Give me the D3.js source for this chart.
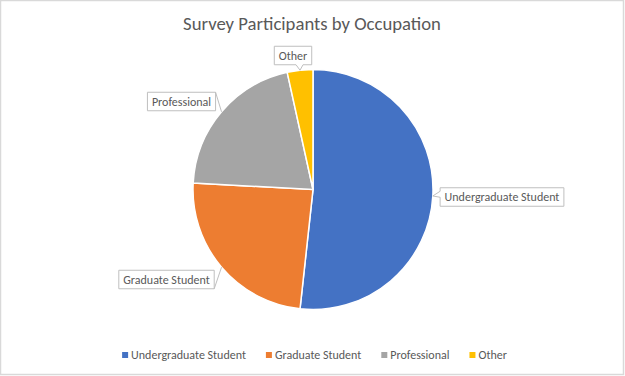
<!DOCTYPE html>
<html>
<head>
	<title>Survey Participants by Occupation</title>
	<style>
		body, html { margin: 0; padding: 0; background: #fff; }
		svg { display: block; }
	</style>
</head>
<body>
	<svg id="svg" width="625" height="376"></svg>

	<script src="https://cdn.jsdelivr.net/npm/d3@7/dist/d3.min.js"></script>
	<script>
		// Data
		const categories = ['Undergraduate Student', 'Graduate Student', 'Professional', 'Other']
		const counts = [150, 70, 60, 10]
		const colors = ['#4472C4', '#ED7D31', '#A5A5A5', '#FFC000']

		const font = 'Calibri, Carlito, Lato, sans-serif'
		const textColor = '#595959'

		const svg = d3.select('#svg')

		// chart border
		svg.append('rect')
			.attr('x', 0.5).attr('y', 0.5)
			.attr('width', 623).attr('height', 374)
			.attr('fill', '#fff')
			.attr('stroke', '#d9d9d9')
			.attr('stroke-width', 1.5)

		// title
		svg.append('text')
			.attr('x', 312).attr('y', 29.5)
			.attr('text-anchor', 'middle')
			.attr('font-family', font)
			.attr('font-size', 18.7)
			.attr('fill', textColor)
			.text('Survey Participants by Occupation')

		// Pie
		const cx = 313, cy = 189.5, r = 120
		const pie = d3.pie().sort(null).value(d => d)
		const arcs = pie(counts)
		const arc = d3.arc().innerRadius(0).outerRadius(r)

		const g = svg.append('g').attr('transform', `translate(${cx}, ${cy})`)
		g.selectAll('path')
			.data(arcs)
			.join('path')
			.attr('d', arc)
			.attr('fill', (d, i) => colors[i])
			.attr('stroke', '#fff')
			.attr('stroke-width', 1.5)

		// point on the rim at the middle of a slice
		function rimPoint(d) {
			const a = (d.startAngle + d.endAngle) / 2
			return [cx + r * Math.sin(a), cy - r * Math.cos(a)]
		}

		// where the data labels sit (box centre) and how they connect
		const labelPos = [
			{ x: 502, y: 197, kind: 'left' },
			{ x: 166.5, y: 279.5, kind: 'line' },
			{ x: 181.5, y: 101.5, kind: 'line' },
			{ x: 293, y: 55.5, kind: 'bottom' }
		]
		const boxH = 18.5

		arcs.forEach((d, i) => {
			const lp = labelPos[i]
			const tip = rimPoint(d)
			const t = svg.append('text')
				.attr('x', lp.x).attr('y', lp.y + 4)
				.attr('text-anchor', 'middle')
				.attr('font-family', font)
				.attr('font-size', 12)
				.attr('fill', textColor)
				.text(categories[i])
			const w = t.node().getComputedTextLength() + 9
			const x0 = lp.x - w / 2, y0 = lp.y - boxH / 2
			let path
			if (lp.kind === 'left') {
				path = `M${x0},${y0}H${x0 + w}V${y0 + boxH}H${x0}V${y0 + 9.5}L${tip[0]},${tip[1]}L${x0},${y0 + 3.5}Z`
			} else if (lp.kind === 'bottom') {
				path = `M${x0},${y0}H${x0 + w}V${y0 + boxH}H${tip[0] + 3}L${tip[0]},${tip[1]}L${tip[0] - 4},${y0 + boxH}H${x0}Z`
			} else {
				path = `M${x0},${y0}H${x0 + w}V${y0 + boxH}H${x0}Z`
				const cornerY = tip[1] > lp.y ? y0 : y0 + boxH
				svg.append('line')
					.attr('x1', x0 + w).attr('y1', cornerY)
					.attr('x2', tip[0]).attr('y2', tip[1])
					.attr('stroke', '#bfbfbf')
					.attr('stroke-width', 1)
			}
			svg.insert('path', 'text:last-of-type')
				.attr('d', path)
				.attr('fill', '#fff')
				.attr('stroke', '#bfbfbf')
				.attr('stroke-width', 1)
			t.raise()
		})

		// Legend, centred under the pie
		const legend = svg.append('g').attr('transform', 'translate(0, 355)')
		const items = legend.selectAll('g')
			.data(categories)
			.join('g')
		items.append('rect')
			.attr('width', 6).attr('height', 6)
			.attr('y', -3)
			.attr('fill', (d, i) => colors[i])
		items.append('text')
			.attr('x', 9).attr('y', 4)
			.attr('font-family', font)
			.attr('font-size', 12)
			.attr('fill', textColor)
			.text(d => d)

		let offset = 0
		const widths = []
		items.each(function () {
			widths.push(this.getBBox().width)
		})
		const total = d3.sum(widths) + 20 * (widths.length - 1)
		let start = 314.5 - total / 2
		items.attr('transform', (d, i) => {
			const x = start
			start += widths[i] + 20
			return `translate(${x}, 0)`
		})
	</script>
</body>
</html>
